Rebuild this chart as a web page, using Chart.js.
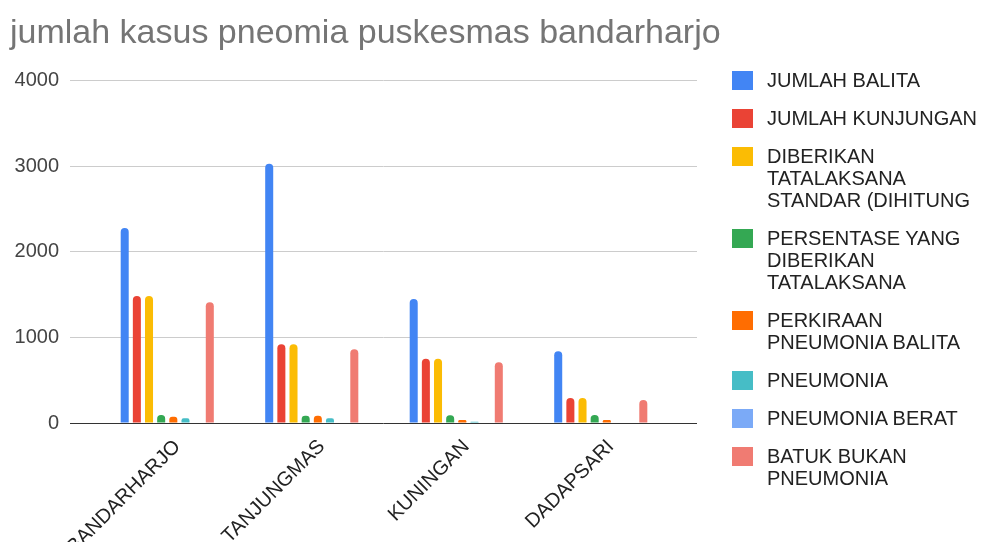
<!DOCTYPE html>
<html>
<head>
<meta charset="utf-8">
<title>jumlah kasus pneomia puskesmas bandarharjo</title>
<script src="https://cdn.jsdelivr.net/npm/chart.js@4.4.0/dist/chart.umd.min.js"></script>
<style>
  html, body { margin: 0; padding: 0; background: #fff; overflow: hidden; }
  #wrap { position: relative; width: 985px; height: 542px; }
  #legend {
    position: absolute; left: 732px; top: 69px; width: 253px;
    font-family: "Liberation Sans", Arial, sans-serif; font-size: 20px; color: #222;
  }
  .item { display: flex; align-items: flex-start; margin-bottom: 16px; line-height: 22px; }
  .box { width: 21px; height: 19px; margin-top: 2px; flex: none; }
  .txt { margin-left: 14px; width: 218px; }
</style>
</head>
<body>
<div id="wrap">
  <canvas id="myBarChart" width="985" height="542"></canvas>
  <div id="legend"></div>
</div>
<script>
// data per puskesmas
var categories = ['BANDARHARJO', 'TANJUNGMAS', 'KUNINGAN', 'DADAPSARI'];
var jumlahBalita = [2280, 3030, 1450, 840];
var jumlahKunjungan = [1485, 920, 750, 292];
var diberikanTatalaksana = [1485, 920, 750, 292];
var persentaseTatalaksana = [94, 86, 90, 94];
var perkiraanPneumonia = [74, 86, 35, 35];
var pneumonia = [55, 55, 15, 5];
var pneumoniaBerat = [0, 0, 0, 0];
var batukBukanPneumonia = [1411, 862, 710, 269];
var yTicks = [0, 1000, 2000, 3000, 4000];

var seriesNames = [
    'JUMLAH BALITA',
    'JUMLAH KUNJUNGAN',
    'DIBERIKAN TATALAKSANA STANDAR (DIHITUNG',
    'PERSENTASE YANG DIBERIKAN TATALAKSANA',
    'PERKIRAAN PNEUMONIA BALITA',
    'PNEUMONIA',
    'PNEUMONIA BERAT',
    'BATUK BUKAN PNEUMONIA'
];
var seriesValues = [jumlahBalita, jumlahKunjungan, diberikanTatalaksana, persentaseTatalaksana,
    perkiraanPneumonia, pneumonia, pneumoniaBerat, batukBukanPneumonia];
var colors = ['#4285F4', '#EA4335', '#FBBC04', '#34A853', '#FF6D01', '#46BDC6', '#7BAAF7', '#F07B72'];

var fontFamily = '"Liberation Sans", Arial, sans-serif';

var datasets = seriesNames.map(function (name, k) {
    return {
        label: name,
        data: seriesValues[k].map(function (v, i) { return { x: i, y: v }; }),
        backgroundColor: colors[k],
        borderRadius: 4,
        categoryPercentage: 0.673,
        barPercentage: 0.66
    };
});

var myBarChart = new Chart(document.getElementById('myBarChart').getContext('2d'), {
    type: 'bar',
    data: { datasets: datasets },
    options: {
        responsive: false,
        animation: false,
        devicePixelRatio: 1,
        layout: { padding: { left: 10, right: 10, top: 0, bottom: 0 } },
        plugins: {
            legend: { display: false },
            tooltip: { enabled: false },
            title: {
                display: true,
                text: 'jumlah kasus pneomia puskesmas bandarharjo',
                align: 'start',
                color: '#757575',
                font: { family: fontFamily, size: 34, weight: 'normal' },
                padding: { top: 13, bottom: 27 }
            }
        },
        scales: {
            x: {
                type: 'linear',
                offset: false,
                min: -0.673,
                max: 3.666,
                grid: { display: false, offset: false },
                border: { display: false },
                afterFit: function (s) { s.height = 119; },
                // labels sit a little right of each group centre
                afterBuildTicks: function (s) {
                    s.ticks = categories.map(function (c, i) { return { value: i + 0.07 }; });
                },
                ticks: {
                    autoSkip: false,
                    minRotation: 45,
                    maxRotation: 45,
                    padding: 4,
                    color: '#222',
                    font: { family: fontFamily, size: 20 },
                    callback: function (v) { return categories[Math.round(v)] || ''; }
                }
            },
            y: {
                min: 0,
                max: 4000,
                afterFit: function (s) { s.width = 60; },
                afterBuildTicks: function (s) {
                    s.ticks = yTicks.map(function (v) { return { value: v }; });
                },
                border: { display: false },
                grid: {
                    drawTicks: false,
                    color: function (c) { return c.tick && c.tick.value === 0 ? '#333' : '#ccc'; }
                },
                ticks: {
                    padding: 11,
                    color: '#444',
                    font: { family: fontFamily, size: 20 },
                    callback: function (v) { return String(v); }
                }
            },
            // empty right axis keeps room for the legend column
            legendSpace: {
                type: 'linear',
                position: 'right',
                display: true,
                afterFit: function (s) { s.width = 278; },
                grid: { display: false },
                border: { display: false },
                ticks: { display: false }
            }
        }
    }
});

// legend on the right, wrapped like the sheet legend
var legend = document.getElementById('legend');
seriesNames.forEach(function (name, k) {
    var item = document.createElement('div');
    item.className = 'item';
    var box = document.createElement('div');
    box.className = 'box';
    box.style.background = colors[k];
    var txt = document.createElement('div');
    txt.className = 'txt';
    txt.textContent = name;
    item.appendChild(box);
    item.appendChild(txt);
    legend.appendChild(item);
});
</script>
</body>
</html>
